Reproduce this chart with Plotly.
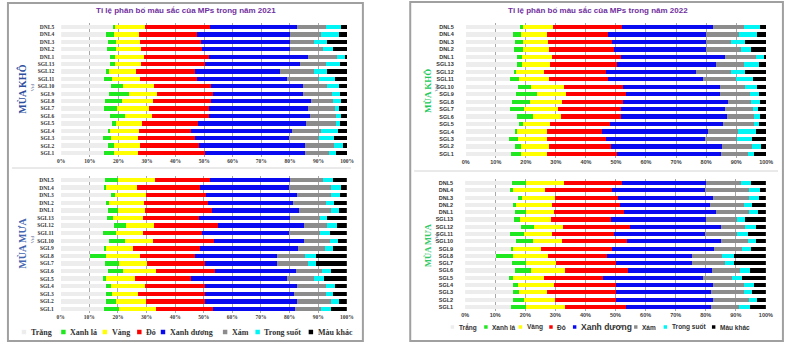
import plotly.graph_objects as go

W, H = 785, 343

stations = ["DNL5", "DNL4", "DNL3", "DNL2", "DNL1", "SGL13", "SGL12", "SGL11", "SGL10",
            "SGL9", "SGL8", "SGL7", "SGL6", "SGL5", "SGL4", "SGL3", "SGL2", "SGL1"]
colour_names = ["Trắng", "Xanh lá", "Vàng", "Đỏ", "Xanh dương", "Xám", "Trong suốt", "Màu khác"]
colour_fill = ["#EDEDED", "#1FE81F", "#FFFF00", "#FF0000", "#0A0AF0", "#8C8C8C", "#00F5F5", "#000000"]
x_ticks = [0, 10, 20, 30, 40, 50, 60, 70, 80, 90, 100]
x_tick_text = ["0%", "10%", "20%", "30%", "40%", "50%", "60%", "70%", "80%", "90%", "100%"]
years = ["2021", "2022"]

# Mùa khô: share of each colour (%) per station
dry_trang = [18.0, 15.8, 16.3, 16.0, 17.2, 17.0, 16.0, 14.8, 17.3, 16.8, 15.4, 14.9, 17.1, 17.6, 16.6, 14.5, 16.5, 15.0]
dry_xanh_la = [0.9, 2.6, 2.9, 3.1, 1.5, 1.7, 0.6, 2.9, 4.3, 6.9, 6.0, 4.6, 5.2, 1.5, 0.5, 3.0, 1.9, 3.4]
dry_vang = [10.3, 8.7, 8.3, 8.7, 10.1, 9.3, 9.6, 9.9, 11.0, 9.7, 10.8, 11.1, 9.3, 9.0, 10.1, 9.4, 9.2, 8.5]
dry_do = [22.9, 20.4, 21.3, 21.6, 22.8, 22.2, 20.6, 19.9, 19.9, 19.8, 20.2, 21.1, 20.2, 19.9, 18.3, 19.9, 20.6, 23.3]
dry_xanh_duong = [30.2, 32.5, 31.3, 30.6, 34.7, 33.2, 29.7, 31.6, 32.1, 31.3, 34.9, 34.6, 35.1, 37.5, 35.2, 33.0, 37.1, 34.9]
dry_xam = [10.4, 11.0, 8.3, 11.5, 10.2, 9.2, 11.8, 11.0, 8.3, 10.1, 7.6, 9.3, 9.1, 10.5, 10.0, 10.4, 10.0, 8.7]
dry_trong_suot = [5.1, 6.0, 4.6, 3.6, 3.0, 5.0, 4.7, 5.5, 4.1, 2.9, 2.9, 1.6, 1.9, 1.6, 6.0, 5.2, 3.1, 2.3]
dry_mau_khac = [2.2, 3.0, 7.0, 4.9, 0.5, 2.4, 7.0, 4.4, 3.0, 2.5, 2.2, 2.8, 2.1, 2.4, 3.3, 4.6, 1.6, 3.9]

# Mùa mưa: share of each colour (%) per station
wet_trang = [15.6, 15.0, 17.5, 15.8, 16.7, 16.1, 18.7, 14.9, 17.0, 15.2, 10.3, 15.6, 16.6, 14.7, 15.8, 16.0, 15.8, 15.2]
wet_xanh_la = [4.5, 1.0, 1.4, 1.2, 3.4, 2.2, 4.2, 4.6, 5.5, 0.8, 5.5, 4.8, 5.2, 1.3, 1.7, 1.8, 3.7, 5.2]
wet_vang = [12.9, 10.7, 10.9, 12.0, 9.3, 10.4, 9.6, 9.3, 9.6, 9.3, 11.9, 9.8, 11.5, 10.1, 12.1, 9.3, 10.3, 12.9]
wet_do = [19.3, 22.0, 21.1, 22.4, 23.5, 19.7, 22.4, 20.7, 21.6, 23.5, 19.4, 20.1, 20.8, 19.6, 20.7, 23.2, 20.5, 20.1]
wet_xanh_duong = [27.9, 31.2, 31.6, 29.9, 30.4, 31.8, 30.2, 30.3, 31.3, 34.0, 28.5, 25.3, 28.1, 33.5, 32.2, 31.3, 32.2, 28.5]
wet_xam = [11.4, 14.6, 12.0, 11.3, 11.0, 10.3, 8.1, 10.7, 9.0, 9.4, 9.7, 10.7, 9.2, 9.4, 10.3, 11.2, 12.0, 9.2]
wet_trong_suot = [3.4, 3.5, 3.2, 2.8, 3.1, 2.7, 3.4, 3.7, 2.8, 2.9, 4.1, 3.1, 3.2, 3.4, 3.2, 2.5, 2.6, 3.5]
wet_mau_khac = [5.0, 2.0, 2.3, 4.6, 2.6, 6.8, 3.4, 5.8, 3.2, 4.9, 10.6, 10.6, 5.4, 8.0, 4.0, 4.7, 2.9, 5.4]

dry_series = [dry_trang, dry_xanh_la, dry_vang, dry_do, dry_xanh_duong, dry_xam, dry_trong_suot, dry_mau_khac]
wet_series = [wet_trang, wet_xanh_la, wet_vang, wet_do, wet_xanh_duong, wet_xam, wet_trong_suot, wet_mau_khac]


def px(x):
    return x / W


def py(y):
    return 1 - y / H


SERIF = "Liberation Serif"
SANS = "Liberation Sans"

# one entry per chart: year index, season series, x range (px), y range (px)
panels = [
    dict(year=0, series=dry_series, xs=(58, 348), ys=(23.3, 156.7), font=SERIF),
    dict(year=0, series=wet_series, xs=(57.5, 347.7), ys=(176.2, 312.8), font=SERIF),
    dict(year=1, series=dry_series, xs=(468.3, 773), ys=(23.3, 157.7), font=SANS),
    dict(year=1, series=wet_series, xs=(467.7, 772.7), ys=(179.4, 310.6), font=SANS),
]

fig = go.Figure()
layout = {}
for i, p in enumerate(panels):
    sfx = "" if i == 0 else str(i + 1)
    for name, colour, vals in zip(colour_names, colour_fill, p["series"]):
        fig.add_trace(go.Bar(
            x=vals, y=stations, orientation="h", name=name,
            marker=dict(color=colour, line=dict(width=0)),
            xaxis="x" + sfx, yaxis="y" + sfx, showlegend=False,
        ))
    layout["xaxis" + sfx] = dict(
        domain=[px(p["xs"][0]), px(p["xs"][1])], range=[0, 100], anchor="y" + sfx,
        tickvals=x_ticks, ticktext=x_tick_text, showgrid=True, gridcolor="#A8A8A8",
        gridwidth=1, zeroline=False, showline=False, ticks="",
        tickfont=dict(family=p["font"], size=5.5, color="#404040", weight="bold"),
        fixedrange=True,
    )
    layout["yaxis" + sfx] = dict(
        domain=[py(p["ys"][1]), py(p["ys"][0])], anchor="x" + sfx, type="category",
        autorange="reversed", showgrid=False, zeroline=False, showline=False, ticks="",
        ticklabelstandoff=6 if p["font"] == SERIF else 11,
        tickfont=dict(family=p["font"], size=5.5, color="#333333", weight="bold"),
        fixedrange=True,
    )

shapes = []
annotations = []

# panel frames and the thin rule between the two seasons
shapes.append(dict(type="rect", xref="paper", yref="paper", x0=px(4), x1=px(364), y0=py(341), y1=py(3),
                   line=dict(color="#A0A0A0", width=2)))
shapes.append(dict(type="line", xref="paper", yref="paper", x0=px(8), x1=px(352), y0=py(168), y1=py(168),
                   line=dict(color="#D4D4D4", width=1)))
shapes.append(dict(type="rect", xref="paper", yref="paper", x0=px(412), x1=px(790), y0=py(341), y1=py(2),
                   line=dict(color="#A0A0A0", width=2)))
shapes.append(dict(type="line", xref="paper", yref="paper", x0=px(416), x1=px(785), y0=py(171), y1=py(171),
                   line=dict(color="#D4D4D4", width=1)))

# titles
for cx, yr in [(184.5, years[0]), (602, years[1])]:
    annotations.append(dict(
        text="Tỉ lệ phân bố màu sắc của MPs trong năm " + yr, x=px(cx), y=py(11),
        xref="paper", yref="paper", showarrow=False, xanchor="center", yanchor="middle",
        font=dict(family=SANS, size=8, color="#7030A0", weight="bold"),
    ))

# season labels
season_labels = [
    ("MÙA KHÔ", 18, 89, "#2E4F9E", 10, 28, 88),
    ("MÙA MƯA", 18, 243, "#4466B0", 10, 28, 240),
    ("MÙA KHÔ", 430, 91, "#22C85A", 9, 438, 88),
    ("MÙA MƯA", 430, 245, "#35C868", 8.5, 438, 238),
]
for text, sx, sy, col, size, vx, vy in season_labels:
    annotations.append(dict(
        text=text, x=px(sx), y=py(sy), xref="paper", yref="paper", showarrow=False,
        textangle=-90, xanchor="center", yanchor="middle",
        font=dict(family=SERIF, size=size, color=col, weight="bold"),
    ))
    annotations.append(dict(
        text="Vtd", x=px(vx), y=py(vy), xref="paper", yref="paper", showarrow=False,
        textangle=-90, xanchor="center", yanchor="middle",
        font=dict(family=SERIF, size=5, color="#5A6A90"),
    ))

# legends drawn below each year's charts
legend_left = dict(y=332, squares=[18, 58, 100, 135, 159, 222, 255, 309], sq=4.5,
                   font=SERIF, sizes=[8] * 8, gap=2.5)
legend_right = dict(y=327, squares=[453, 487, 522, 553, 577, 639, 669, 718], sq=3.5,
                    font=SANS, sizes=[6.5, 6.5, 6.5, 6.5, 8.5, 6.5, 6.5, 6.5], gap=2.5)
for lg in (legend_left, legend_right):
    for name, colour, sx, fs in zip(colour_names, colour_fill, lg["squares"], lg["sizes"]):
        s = lg["sq"]
        shapes.append(dict(type="rect", xref="paper", yref="paper",
                           x0=px(sx), x1=px(sx + s), y0=py(lg["y"] + s / 2), y1=py(lg["y"] - s / 2),
                           fillcolor=colour, line=dict(width=0)))
        annotations.append(dict(
            text=name, x=px(sx + s + lg["gap"]), y=py(lg["y"]), xref="paper", yref="paper",
            showarrow=False, xanchor="left", yanchor="middle",
            font=dict(family=lg["font"], size=fs, color="#333333", weight="bold"),
        ))

fig.update_layout(
    width=W, height=H, margin=dict(l=0, r=0, t=0, b=0),
    paper_bgcolor="white", plot_bgcolor="white",
    barmode="stack", bargap=0.42,
    shapes=shapes, annotations=annotations, showlegend=False,
    **layout,
)

fig.write_html("out.html")
